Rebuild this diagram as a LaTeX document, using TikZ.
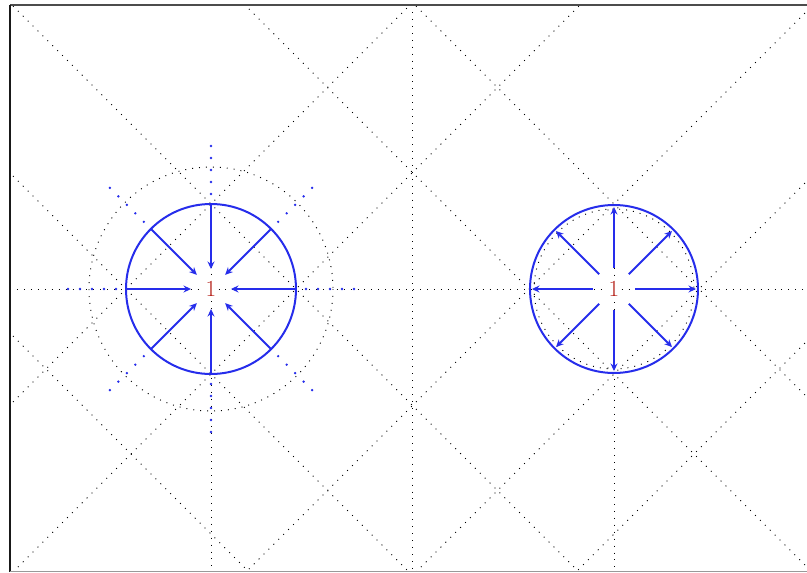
\documentclass[tikz,border=0pt]{standalone}
\usetikzlibrary{arrows.meta,calc}
\definecolor{bl}{RGB}{38,45,235}
\definecolor{rd}{RGB}{180,30,22}
\begin{document}
\begin{tikzpicture}[x=1pt,y=-1pt,
  dotline/.style={black, line width=0.95pt, dash pattern=on 0.95pt off 6pt},
  bdots/.style={bl, line width=2.6pt, line cap=round, dash pattern=on 0pt off 12pt},
  ring/.style={bl, line width=2pt},
  arr/.style={bl, line width=1.8pt, -{Stealth[length=7.5pt,width=7pt]}},
  lab/.style={text=rd, fill=white, inner sep=1.5pt, font=\fontsize{23}{23}\selectfont}]
\useasboundingbox (0,0) rectangle (807,573);
% diagonal dotted lines
\begin{scope}
  \clip (10,5) rectangle (807,571);
  \foreach \c in {-323,-163,7,240,410}
    \draw[dotline] (-100,{-100-(\c)}) -- (900,{900-(\c)});
  \foreach \c in {415,585,818,988,1148}
    \draw[dotline] (-100,{(\c)+100}) -- (900,{(\c)-900});
\end{scope}
% axis-parallel dotted lines
\draw[dotline] (10,289) -- (807,289);
\draw[dotline] (412,5) -- (412,571);
\draw[dotline] (211,204) -- (211,571);
\draw[dotline] (614,205) -- (614,571);
% dotted circles
\draw[dotline] (211,289) circle[radius=122];
\draw[dotline] (614,289) circle[radius=80];
% frame
\draw[line width=2pt, black!70] (10,4.5) -- (807,4.5);
\draw[line width=1.5pt, black!90] (10,4.5) -- (10,571.5);
\draw[line width=1.8pt, black!40] (10,571.5) -- (807,571.5);
% labels
\node[lab] (L) at (211,289) {1};
\node[lab] (R) at (614,289) {1};
% left: inward
\draw[ring] (L.center) circle[radius=85];
\foreach \a in {0,45,...,315}{
  \draw[bdots] ($(L.center)+(\a:143)$) -- ($(L.center)+(\a:90)$);
  \draw[arr] ($(L.center)+(\a:85)$) -- ($(L.center)+(\a:20)$);
}
% right: outward
\draw[ring] (R.center) circle[radius=84];
\foreach \a in {0,45,...,315}
  \draw[arr] ($(R.center)+(\a:21)$) -- ($(R.center)+(\a:82)$);
\end{tikzpicture}
\end{document}
